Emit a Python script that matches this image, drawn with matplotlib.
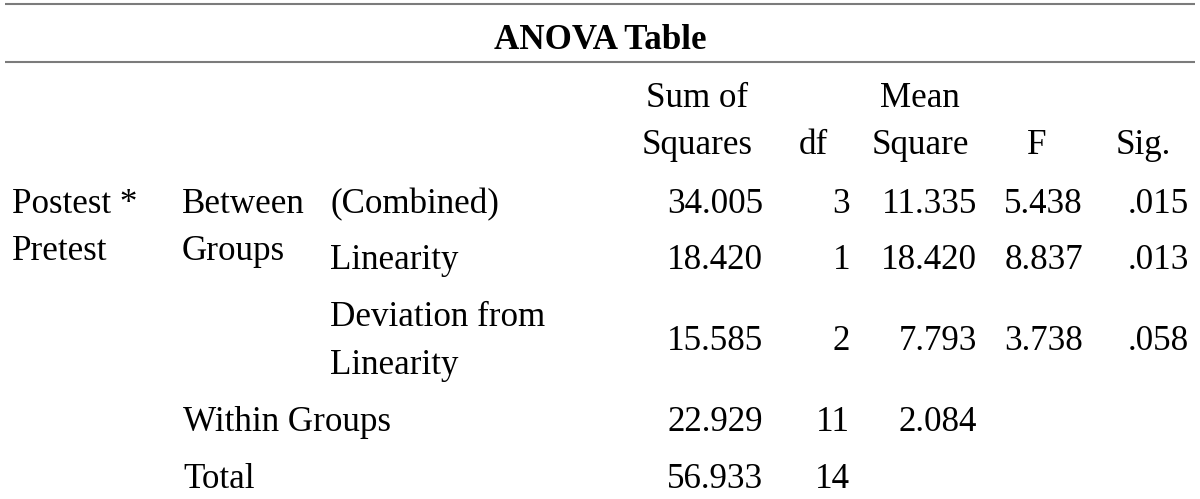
import matplotlib.pyplot as plt

# table content
title = "ANOVA Table"
header_top = ["Sum of", "", "Mean", "", ""]
header_bot = ["Squares", "df", "Square", "F", "Sig."]
dep_label = ["Postest *", "Pretest"]
group_label = ["Between", "Groups"]
sub_labels = ["(Combined)", "Linearity", "Deviation from\nLinearity"]
other_labels = ["Within Groups", "Total"]

sum_sq = [34.005, 18.420, 15.585, 22.929, 56.933]
dfs = [3, 1, 2, 11, 14]
mean_sq = [11.335, 18.420, 7.793, 2.084, None]
f_vals = [5.438, 8.837, 3.738, None, None]
sig = [0.015, 0.013, 0.058, None, None]

# layout (pixels, y from the top)
W, H = 1200, 499
row_y = [213, 269, 350, 431, 488]
line_h = 47
col_right = [763, 850, 977, 1083, 1189]
head_x = [697, 813, 920, 1037, 1143]
x_dep, x_grp, x_sub = 12, 182, 330

plt.rcParams['font.family'] = ['Liberation Serif', 'DejaVu Serif']
fs = 25.2

fig = plt.figure(figsize=(W / 100, H / 100), dpi=100)
ax = fig.add_axes([0, 0, 1, 1])
ax.set_xlim(0, W)
ax.set_ylim(H, 0)
ax.axis('off')

# rules
for y in (3.5, 61.7):
    ax.plot([5, 1195], [y, y], color='#7b7b7b', lw=1.5, solid_capstyle='butt')

ax.text(600, 49, title, ha='center', va='baseline', fontsize=fs, fontweight='bold')

# column headers
for x, t, b in zip(head_x, header_top, header_bot):
    if t:
        ax.text(x, 107, t, ha='center', va='baseline', fontsize=fs)
    ax.text(x, 107 + line_h, b, ha='center', va='baseline', fontsize=fs)

# row labels
for i, t in enumerate(dep_label):
    ax.text(x_dep, row_y[0] + i * line_h, t, ha='left', va='baseline', fontsize=fs)
for i, t in enumerate(group_label):
    ax.text(x_grp, row_y[0] + i * line_h, t, ha='left', va='baseline', fontsize=fs)
for i, lab in enumerate(sub_labels):
    parts = lab.split("\n")
    y0 = row_y[i] - (len(parts) - 1) * line_h / 2
    for j, p in enumerate(parts):
        ax.text(x_sub, y0 + j * line_h, p, ha='left', va='baseline', fontsize=fs)
for i, t in enumerate(other_labels):
    ax.text(x_grp + 1, row_y[3 + i], t, ha='left', va='baseline', fontsize=fs)

# values
def fmt3(v):
    return "" if v is None else f"{v:.3f}"

columns = [
    [fmt3(v) for v in sum_sq],
    [str(v) for v in dfs],
    [fmt3(v) for v in mean_sq],
    [fmt3(v) for v in f_vals],
    [fmt3(v).lstrip("0") for v in sig],
]
for x, col in zip(col_right, columns):
    for y, s in zip(row_y, col):
        if s:
            ax.text(x, y, s, ha='right', va='baseline', fontsize=fs)

fig.savefig("out.png", dpi=100, facecolor='white')
